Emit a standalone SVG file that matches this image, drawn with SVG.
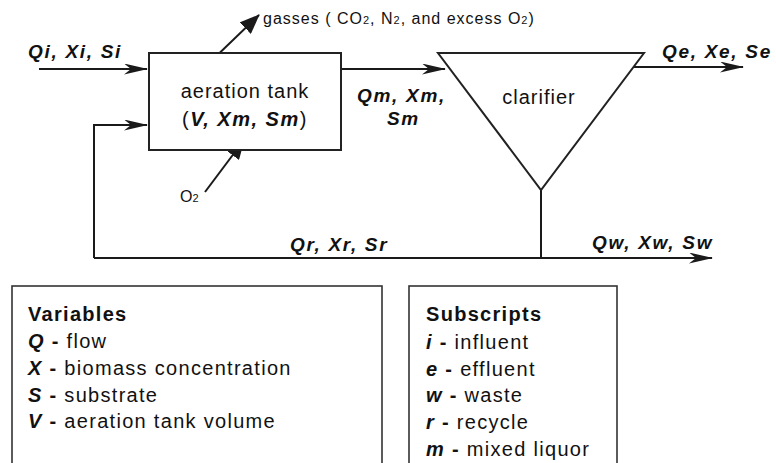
<svg xmlns="http://www.w3.org/2000/svg" width="776" height="463" viewBox="0 0 776 463">
<style>
  .ln { fill: none; stroke: #1a1a1a; stroke-width: 2; }
  .box { fill: #fff; stroke: #222; stroke-width: 2; }
  .lg { fill: #fff; stroke: #333; stroke-width: 1.6; }
  text { font-family: "Liberation Sans", Arial, sans-serif; fill: #111; }
  .lab { font-size: 19px; font-weight: bold; font-style: italic; letter-spacing: 1.7px; }
  .node { font-size: 20px; letter-spacing: 1px; }
  .small { font-size: 16px; letter-spacing: 1px; }
  .leg { font-size: 20px; letter-spacing: 1.3px; }
  .b { font-weight: bold; }
  .bi { font-weight: bold; font-style: italic; }
</style>
<defs>
  <marker id="barb" viewBox="0 0 24 11" markerWidth="24" markerHeight="11" refX="23" refY="5.5" markerUnits="userSpaceOnUse" orient="auto">
    <path d="M0,0 L24,5.5 L0,11 L7,5.5 Z" fill="#1a1a1a"/>
  </marker>
  <marker id="tri" viewBox="0 0 20 16" markerWidth="20" markerHeight="16" refX="19" refY="8" markerUnits="userSpaceOnUse" orient="auto">
    <path d="M0,0 L20,8 L0,16 Z" fill="#1a1a1a"/>
  </marker>
</defs>

<g id="connectors">
  <path class="ln" d="M39,69 H147" marker-end="url(#barb)"/>
  <path class="ln" d="M341,69 H445" marker-end="url(#barb)"/>
  <path class="ln" d="M634,67 H743" marker-end="url(#barb)"/>
  <path class="ln" d="M541,190 V258"/>
  <path class="ln" d="M94,258 H712" marker-end="url(#barb)"/>
  <path class="ln" d="M94,258 V125 H147" marker-end="url(#barb)"/>
  <path class="ln" d="M205,67 L259,15" marker-end="url(#tri)"/>
  <path class="ln" d="M205,192 L244,140" marker-end="url(#tri)"/>
</g>

<g id="aeration-tank">
  <rect class="box" x="149" y="53" width="192" height="97"/>
  <text class="node" x="245" y="98" text-anchor="middle">aeration tank</text>
  <text class="node" x="245" y="126" text-anchor="middle" style="letter-spacing:1.5px">(<tspan class="bi">V, Xm, Sm</tspan>)</text>
</g>

<g id="clarifier">
  <polygon class="box" points="438,53 644,53 541,190"/>
  <text class="node" x="539" y="104" text-anchor="middle">clarifier</text>
</g>

<g id="labels">
  <text class="lab" x="28" y="58">Qi, Xi, Si</text>
  <text class="lab" x="662" y="58">Qe, Xe, Se</text>
  <text class="lab" x="357" y="102">Qm, Xm,</text>
  <text class="lab" x="387" y="125">Sm</text>
  <text class="lab" x="290" y="251">Qr, Xr, Sr</text>
  <text class="lab" x="592" y="249">Qw, Xw, Sw</text>
  <text class="small" x="263" y="24">gasses ( CO<tspan font-size="11">2</tspan>, N<tspan font-size="11">2</tspan>, and excess O<tspan font-size="11">2</tspan>)</text>
  <text class="small" x="180" y="202" style="letter-spacing:0">O<tspan font-size="11">2</tspan></text>
</g>

<g id="legend-variables">
  <rect class="lg" x="12" y="286" width="370" height="200"/>
  <text class="leg b" x="28" y="321">Variables</text>
  <text class="leg" x="28" y="348"><tspan class="bi">Q</tspan><tspan class="b"> - </tspan>flow</text>
  <text class="leg" x="28" y="375"><tspan class="bi">X</tspan><tspan class="b"> - </tspan>biomass concentration</text>
  <text class="leg" x="28" y="402"><tspan class="bi">S</tspan><tspan class="b"> - </tspan>substrate</text>
  <text class="leg" x="28" y="428"><tspan class="bi">V</tspan><tspan class="b"> - </tspan>aeration tank volume</text>
</g>

<g id="legend-subscripts">
  <rect class="lg" x="409" y="286" width="208" height="200"/>
  <text class="leg b" x="426" y="321">Subscripts</text>
  <text class="leg" x="426" y="349"><tspan class="bi">i</tspan><tspan class="b"> - </tspan>influent</text>
  <text class="leg" x="426" y="376"><tspan class="bi">e</tspan><tspan class="b"> - </tspan>effluent</text>
  <text class="leg" x="426" y="402"><tspan class="bi">w</tspan><tspan class="b"> - </tspan>waste</text>
  <text class="leg" x="426" y="429"><tspan class="bi">r</tspan><tspan class="b"> - </tspan>recycle</text>
  <text class="leg" x="426" y="456"><tspan class="bi">m</tspan><tspan class="b"> - </tspan>mixed liquor</text>
</g>
</svg>
